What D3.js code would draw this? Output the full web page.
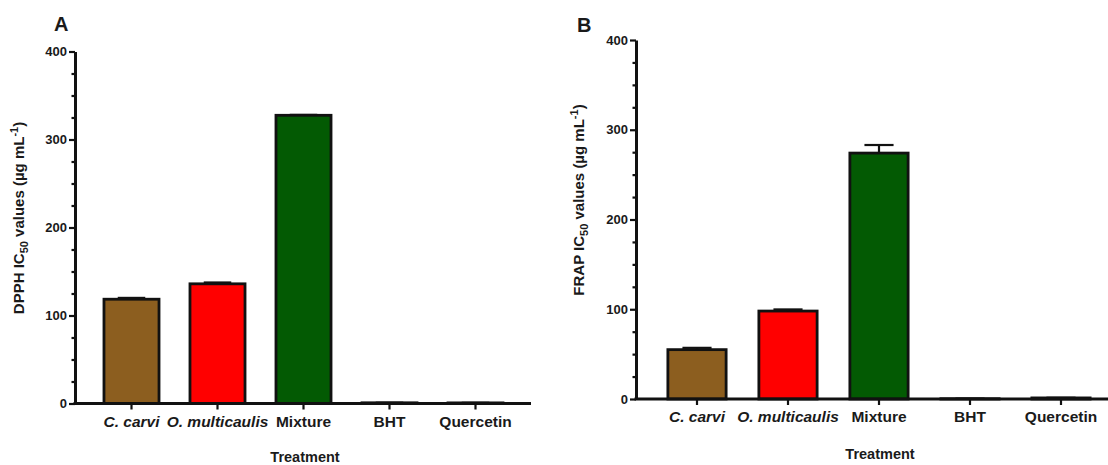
<!DOCTYPE html>
<html>
<head>
<meta charset="utf-8">
<script src="https://cdn.jsdelivr.net/npm/d3@7"></script>
<style>
  html, body { margin: 0; padding: 0; background: #fff; }
  svg { display: block; }
  text { font-family: "Liberation Sans", Arial, sans-serif; font-weight: bold; fill: #1a1a1a; }
</style>
</head>
<body>
<svg id="chart" width="1108" height="465"></svg>
<script>
// ---- data ----
const categories = ["C. carvi", "O. multicaulis", "Mixture", "BHT", "Quercetin"];
const italicCategories = ["C. carvi", "O. multicaulis"];
const barColors = ["#8c5e1f", "#ff0000", "#035a03", "#ffffff", "#ffffff"];
const dpphValues = [118.5, 136, 327.5, 0.8, 0.7];
const dpphErrors = [1.5, 1.5, 0.5, 0.1, 0.1];
const frapValues = [55, 98, 274, 0.3, 1.2];
const frapErrors = [2, 1.8, 9, 0.1, 0.2];
const yMajorTicks = [0, 100, 200, 300, 400];
const yMinorTicks = [25, 50, 75, 125, 150, 175, 225, 250, 275, 325, 350, 375];
const panelLetters = ["A", "B"];
const yTitles = [["DPPH IC", "50", " values (µg mL", "-1", ")"], ["FRAP IC", "50", " values (µg mL", "-1", ")"]];
const xTitle = "Treatment";

const svg = d3.select("#chart");

function panel(cfg) {
  const g = svg.append("g");
  const y = d3.scaleLinear().domain([0, 400]).range([cfg.y0, cfg.yTop]);
  const x = d3.scaleBand().domain(categories).range(cfg.xRange).paddingInner(0.36).paddingOuter(0.18);
  const bw = x.bandwidth();

  // bars
  g.selectAll("rect.bar").data(categories).join("rect")
    .attr("class", "bar")
    .attr("x", d => x(d))
    .attr("y", (d, i) => y(cfg.values[i]))
    .attr("width", bw)
    .attr("height", (d, i) => y(0) - y(cfg.values[i]))
    .attr("fill", (d, i) => barColors[i])
    .attr("stroke", "#111")
    .attr("stroke-width", 2.8);

  // error bars
  const eg = g.selectAll("g.err").data(categories).join("g").attr("class", "err");
  eg.append("line")
    .attr("x1", d => x(d) + bw / 2).attr("x2", d => x(d) + bw / 2)
    .attr("y1", (d, i) => y(cfg.values[i]))
    .attr("y2", (d, i) => y(cfg.values[i] + cfg.errors[i]))
    .attr("stroke", "#111").attr("stroke-width", 2.2);
  eg.append("line")
    .attr("x1", d => x(d) + bw * 0.25).attr("x2", d => x(d) + bw * 0.75)
    .attr("y1", (d, i) => y(cfg.values[i] + cfg.errors[i]))
    .attr("y2", (d, i) => y(cfg.values[i] + cfg.errors[i]))
    .attr("stroke", "#111").attr("stroke-width", 2.2);

  // y axis major
  const ya = g.append("g").attr("transform", `translate(${cfg.axisX},0)`)
    .call(d3.axisLeft(y).tickValues(yMajorTicks).tickSize(6).tickSizeOuter(0).tickPadding(2));
  ya.select(".domain").attr("stroke", "#111").attr("stroke-width", 3);
  ya.selectAll(".tick line").attr("stroke", "#111").attr("stroke-width", 2.2);
  ya.selectAll(".tick text").style("font-size", "13px").style("font-family", "Liberation Sans, Arial").style("font-weight", "bold").attr("fill", "#222");
  // y axis minor
  const ym = g.append("g").attr("transform", `translate(${cfg.axisX},0)`)
    .call(d3.axisLeft(y).tickValues(yMinorTicks).tickSize(3.5).tickFormat(""));
  ym.select(".domain").remove();
  ym.selectAll(".tick line").attr("stroke", "#111").attr("stroke-width", 2.2);

  // x axis
  const xa = g.append("g").attr("transform", `translate(0,${cfg.y0})`)
    .call(d3.axisBottom(x).tickSize(6).tickSizeOuter(0).tickPadding(6));
  xa.select(".domain").attr("d", `M${cfg.axisX - 1.5},0H${cfg.xEnd}`).attr("stroke", "#111").attr("stroke-width", 3);
  xa.selectAll(".tick line").attr("stroke", "#111").attr("stroke-width", 2.2);
  xa.selectAll(".tick text")
    .style("font-size", "15.5px").style("font-family", "Liberation Sans, Arial").style("font-weight", "bold")
    .style("font-style", d => italicCategories.includes(d) ? "italic" : "normal")
    .attr("fill", "#1a1a1a");

  // x title
  g.append("text").attr("x", cfg.xTitleX).attr("y", cfg.xTitleY)
    .attr("text-anchor", "middle").style("font-size", "14.5px").text(xTitle);

  // y title
  const yt = g.append("text")
    .attr("transform", `translate(${cfg.yTitleX},${cfg.yTitleY}) rotate(-90)`)
    .attr("text-anchor", "middle").style("font-size", "15px");
  const parts = cfg.yTitle;
  yt.append("tspan").text(parts[0]);
  yt.append("tspan").attr("dy", 4).style("font-size", "11px").text(parts[1]);
  yt.append("tspan").attr("dy", -4).text(parts[2]);
  yt.append("tspan").attr("dy", -6).style("font-size", "11px").text(parts[3]);
  yt.append("tspan").attr("dy", 6).text(parts[4]);

  // panel letter
  g.append("text").attr("x", cfg.letterX).attr("y", cfg.letterY)
    .style("font-size", "20px").text(cfg.letter);
}

panel({
  values: dpphValues, errors: dpphErrors, yTitle: yTitles[0], letter: panelLetters[0],
  axisX: 75, y0: 403.5, yTop: 51.5, xRange: [88.5, 518.5], xEnd: 531,
  xTitleX: 305, xTitleY: 462, yTitleX: 24, yTitleY: 218, letterX: 54, letterY: 31
});
panel({
  values: frapValues, errors: frapErrors, yTitle: yTitles[1], letter: panelLetters[1],
  axisX: 636, y0: 399, yTop: 40, xRange: [651.5, 1106.5], xEnd: 1108,
  xTitleX: 880, xTitleY: 459, yTitleX: 584, yTitleY: 200, letterX: 577, letterY: 32
});
</script>
</body>
</html>
